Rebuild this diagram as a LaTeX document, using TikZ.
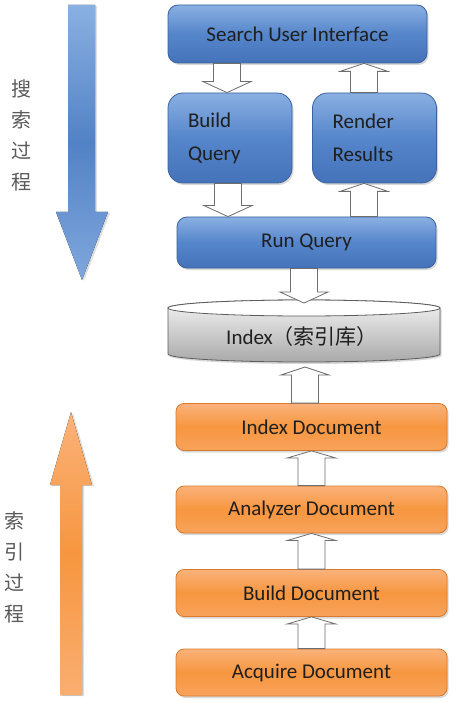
\documentclass[tikz,border=0pt]{standalone}
\usepackage{fontspec}
\setmainfont{Carlito}
\newfontfamily\cjk{Noto Sans CJK SC}
\usetikzlibrary{shadows,calc}

\definecolor{bluetop}{HTML}{8AB0E2}
\definecolor{bluemid}{HTML}{5585CA}
\definecolor{bluebot}{HTML}{4573BA}
\definecolor{blueline}{HTML}{3A62A0}
\definecolor{ortop}{HTML}{FAB27A}
\definecolor{ormid}{HTML}{F7963F}
\definecolor{orbot}{HTML}{F8A35C}
\definecolor{orline}{HTML}{D97A2C}
\definecolor{arrline}{HTML}{6E6E6E}
\definecolor{sidetxt}{HTML}{5A5A5A}
\definecolor{cyltop}{HTML}{F4F4F4}
\definecolor{cylbot}{HTML}{A9A9A9}
\definecolor{cylline}{HTML}{5C5C5C}

% #1 start (only its y is used), #2 tip, #3 signed head length (negative: pointing down)
\newcommand\blockarrow[3]{%
  \filldraw[blockarr] let \p1=(#1), \p2=(#2) in
    ({\x2-13.5pt},\y1) -- ({\x2-13.5pt},{\y2-(#3)*1pt}) -- ({\x2-24pt},{\y2-(#3)*1pt})
    -- (\x2,\y2) -- ({\x2+24pt},{\y2-(#3)*1pt}) -- ({\x2+13.5pt},{\y2-(#3)*1pt})
    -- ({\x2+13.5pt},\y1) -- cycle;}

\begin{document}
\begin{tikzpicture}[x=1pt,y=1pt,
  box/.style={draw, line width=0.8pt, inner sep=0pt, text=black!88,
    font=\fontsize{21}{33}\selectfont,
    drop shadow={shadow xshift=1.5pt, shadow yshift=-2pt, opacity=0.3}},
  bluebox/.style={box, draw=blueline, top color=bluetop, bottom color=bluebot,
    middle color=bluemid, rounded corners=10pt},
  bluetall/.style={bluebox, rounded corners=15pt, align=left, text width=84pt,
    inner xsep=20pt},
  orbox/.style={box, draw=orline, top color=ortop, bottom color=orbot,
    middle color=ormid, rounded corners=8pt, minimum width=271pt, minimum height=47pt},
  blockarr/.style={fill=white, draw=arrline, line width=0.8pt},
  sidetext/.style={font=\cjk\fontsize{20}{31}\selectfont, text=sidetxt, align=center, inner sep=0pt}
]
\useasboundingbox (0,0) rectangle (454,-703);
\fill[white] (0,0) rectangle (454,-703);

% big process arrows
\fill[drop shadow={shadow xshift=2pt, shadow yshift=-1pt, opacity=0.25},
  top color=bluetop, bottom color=bluetop!80!bluemid, middle color=bluemid!90!blueline]
  (68,-5) -- (95,-5) -- (95,-212) -- (108,-212) -- (82,-280) -- (56,-212) -- (68,-212) -- cycle;
\fill[drop shadow={shadow xshift=2pt, shadow yshift=-1pt, opacity=0.25},
  top color=ortop, bottom color=ortop!85!ormid, middle color=ormid]
  (71,-412) -- (92,-485) -- (82,-485) -- (82,-695) -- (60,-695) -- (60,-485) -- (50,-485) -- cycle;

\node[sidetext] (stext) at (21,-135) {搜\\索\\过\\程};
\node[sidetext] (itext) at (15,-567) {索\\引\\过\\程};

% search side
\node[bluebox, minimum width=259pt, minimum height=58pt] (sui) at (297.5,-34) {Search User Interface};
\node[bluetall, minimum height=90pt] (bq) at (230,-138) {Build\\Query};
\node[bluetall, minimum height=90pt] (rr) at (374.5,-138) {Render\\Results};
\node[bluebox, minimum width=259pt, minimum height=51pt] (rq) at (306.5,-242.5) {Run Query};

% index cylinder
\path[draw=cylline, line width=0.8pt, top color=cyltop, bottom color=cylbot,
  drop shadow={shadow xshift=1.5pt, shadow yshift=-2pt, opacity=0.3}]
  (168,-308) -- (168,-354) arc[start angle=180, end angle=360, x radius=136, y radius=8]
  -- (440,-308) arc[start angle=0, end angle=180, x radius=136, y radius=8] -- cycle;
\draw[cylline, line width=0.8pt, fill=white]
  (304,-308) ellipse[x radius=136, y radius=8];
\node[font=\fontsize{21}{24}\selectfont, text=black!88] (idx) at (302,-337) {Index\cjk（索引库）};
\coordinate (idxtop) at (304,-303);
\coordinate (idxbot) at (305,-367);

% index side
\node[orbox] (id) at (311.5,-427) {Index Document};
\node[orbox] (az) at (311.5,-509.5) {Analyzer Document};
\node[orbox] (bd) at (311.5,-593) {Build Document};
\node[orbox] (ad) at (311.5,-672.5) {Acquire Document};

% block arrows
\blockarrow{sui.south}{$(bq.north)+(-3,0)$}{-11}
\blockarrow{rr.north}{$(rr.north |- sui.south)+(-10.5,0)$}{8}
\blockarrow{bq.south}{$(bq.south |- rq.north)+(-2,0)$}{-11}
\blockarrow{rq.north}{$(rr.south)+(-10.5,0)$}{8}
\blockarrow{rq.south}{idxtop}{-11}
\blockarrow{id.north}{idxbot}{8}
\blockarrow{az.north}{id.south}{7}
\blockarrow{bd.north}{az.south}{7}
\blockarrow{ad.north}{bd.south}{7}
\end{tikzpicture}
\end{document}
